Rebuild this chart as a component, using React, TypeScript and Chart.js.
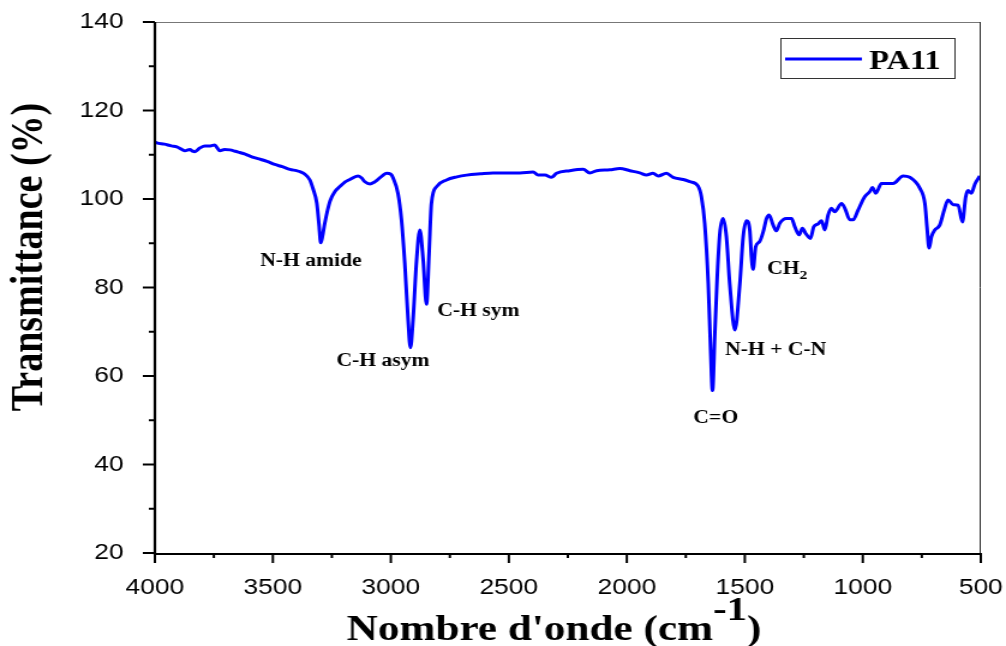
import React, { useEffect, useRef } from 'react';
import { Chart, registerables } from 'chart.js';

Chart.register(...registerables);

// ---- Data ----
const wavenumbers = [
  4000, 3992, 3960, 3930, 3907, 3885, 3873, 3852, 3840, 3831, 3810, 3788, 3765, 3746, 3735, 3725,
  3705, 3682, 3660, 3640, 3620, 3597, 3575, 3555, 3525, 3492, 3460, 3428, 3400, 3386, 3364, 3343,
  3331, 3314, 3305, 3297, 3290, 3280, 3268, 3258, 3237, 3216, 3195, 3174, 3140, 3125, 3110, 3089,
  3070, 3055, 3035, 3018, 3000, 2990, 2970, 2955, 2941, 2927, 2917, 2906, 2891, 2877, 2863, 2849,
  2838, 2828, 2806, 2764, 2720, 2679, 2620, 2567, 2500, 2453, 2397, 2376, 2347, 2319, 2298, 2242,
  2185, 2157, 2128, 2072, 2030, 1987, 1945, 1917, 1889, 1867, 1832, 1804, 1761, 1733, 1698, 1684,
  1670, 1655, 1645, 1637, 1627, 1617, 1606, 1592, 1578, 1564, 1542, 1521, 1507, 1493, 1479, 1472,
  1465, 1454, 1437, 1422, 1408, 1397, 1380, 1366, 1352, 1324, 1302, 1288, 1270, 1256, 1242, 1222,
  1208, 1189, 1175, 1161, 1147, 1133, 1119, 1090, 1076, 1055, 1041, 1020, 992, 970, 959, 945,
  921, 872, 829, 801, 758, 737, 728, 719, 709, 695, 674, 653, 639, 617, 596, 578,
  564, 554, 540, 525, 504,
];
const transmittance = [
  112.9, 112.7, 112.4, 112.0, 111.8, 111.2, 110.9, 111.2, 110.8, 110.7, 111.5, 112.0, 112.0, 112.2, 111.5, 110.9,
  111.2, 111.1, 110.8, 110.5, 110.2, 109.7, 109.3, 109.0, 108.5, 107.8, 107.3, 106.7, 106.4, 106.2, 105.6, 104.3,
  102.5, 99.1, 94.5, 90.1, 91.5, 94.5, 97.5, 99.5, 101.7, 102.8, 103.8, 104.4, 105.2, 104.8, 103.9, 103.4,
  103.8, 104.4, 105.3, 105.8, 105.6, 104.7, 101.3, 95.3, 85.5, 72.7, 66.4, 72.7, 86.2, 93.0, 86.2, 76.2,
  87.7, 99.0, 102.8, 104.3, 105.0, 105.4, 105.7, 105.9, 105.9, 105.9, 106.1, 105.4, 105.4, 104.9, 105.8, 106.4,
  106.7, 105.9, 106.4, 106.6, 106.9, 106.4, 105.9, 105.4, 105.8, 105.2, 105.8, 104.9, 104.4, 103.9, 102.9, 100.5,
  94.5, 80.9, 65.9, 56.7, 69.6, 82.4, 92.2, 95.6, 91.5, 80.9, 70.4, 80.9, 91.5, 95.1, 93.0, 87.0,
  84.1, 89.2, 90.4, 92.6, 95.6, 96.4, 94.1, 92.8, 94.5, 95.6, 95.6, 93.7, 91.9, 93.4, 92.2, 91.1,
  93.7, 94.4, 95.1, 93.0, 96.4, 97.9, 97.1, 99.0, 97.9, 95.3, 95.3, 97.5, 100.5, 101.7, 102.6, 101.3,
  103.5, 103.5, 105.2, 104.9, 102.4, 99.0, 93.7, 88.9, 91.5, 93.0, 94.1, 97.9, 99.8, 98.7, 98.6, 94.8,
  100.5, 101.9, 101.3, 103.4, 105.2,
];

const xTickValues = [4000, 3500, 3000, 2500, 2000, 1500, 1000, 500];
const yTickValues = [20, 40, 60, 80, 100, 120, 140];

const seriesName = 'PA11';
const xTitle = "Nombre d'onde (cm";
const xTitleSup = '-1';
const yTitle = 'Transmittance (%)';

// Band annotations: label, wavenumber, transmittance where the label sits
const peakLabels = ['N-H amide', 'C-H asym', 'C-H sym', 'C=O', 'N-H + C-N', 'CH'];
const peakLabelSubs = ['', '', '', '', '', '2'];
const peakLabelX = [3339, 3034, 2629, 1623, 1369, 1320];
const peakLabelY = [85.9, 63.2, 74.7, 50.5, 65.9, 84.0];

// ---- Layout ----
const STRETCH = 1.2;
const W = Math.round(1006 / STRETCH);
const H = 646;
const SERIF = '"Liberation Serif", "Times New Roman", serif';
const SANS = '"Liberation Sans", Arial, sans-serif';

const zeroPadding = (s: any) => {
  s.paddingLeft = 0;
  s.paddingRight = 0;
  s.paddingTop = 0;
  s.paddingBottom = 0;
};

const decorPlugin = {
  id: 'decor',
  afterDraw(chart: any) {
    const ctx = chart.ctx as CanvasRenderingContext2D;
    const { left, right, top, bottom } = chart.chartArea;
    const xs = chart.scales.x;
    const ys = chart.scales.y;
    ctx.save();

    // top / right frame
    ctx.lineWidth = 1;
    ctx.strokeStyle = '#777';
    ctx.beginPath();
    ctx.moveTo(left, top + 0.5);
    ctx.lineTo(right, top + 0.5);
    ctx.stroke();
    ctx.strokeStyle = '#222';
    ctx.beginPath();
    ctx.moveTo(right - 0.5, top);
    ctx.lineTo(right - 0.5, bottom);
    ctx.stroke();

    // axes
    ctx.strokeStyle = '#000';
    ctx.lineWidth = 2.2;
    ctx.beginPath();
    ctx.moveTo(left, top);
    ctx.lineTo(left, bottom + 1);
    ctx.lineTo(right, bottom + 1);
    ctx.stroke();

    // ticks
    ctx.lineWidth = 2;
    yTickValues.forEach((v) => {
      const y = ys.getPixelForValue(v);
      ctx.beginPath();
      ctx.moveTo(left - 10, y);
      ctx.lineTo(left, y);
      ctx.stroke();
    });
    for (let i = 0; i < yTickValues.length - 1; i++) {
      const v = (yTickValues[i] + yTickValues[i + 1]) / 2;
      const y = ys.getPixelForValue(v);
      ctx.beginPath();
      ctx.moveTo(left - 5, y);
      ctx.lineTo(left, y);
      ctx.stroke();
    }
    xTickValues.forEach((v) => {
      const x = xs.getPixelForValue(v);
      ctx.beginPath();
      ctx.moveTo(x, bottom);
      ctx.lineTo(x, bottom + 10);
      ctx.stroke();
    });
    for (let i = 0; i < xTickValues.length - 1; i++) {
      const v = (xTickValues[i] + xTickValues[i + 1]) / 2;
      const x = xs.getPixelForValue(v);
      ctx.beginPath();
      ctx.moveTo(x, bottom);
      ctx.lineTo(x, bottom + 5);
      ctx.stroke();
    }

    ctx.fillStyle = '#000';

    // y title
    ctx.save();
    ctx.translate(25, 257);
    ctx.rotate(-Math.PI / 2);
    ctx.font = `bold 38px ${SERIF}`;
    ctx.textAlign = 'center';
    ctx.textBaseline = 'middle';
    ctx.fillText(yTitle, 0, 0);
    ctx.restore();

    // x title with superscript
    ctx.font = `bold 36px ${SERIF}`;
    const w1 = ctx.measureText(xTitle).width;
    ctx.font = `bold 34px ${SERIF}`;
    const w2 = ctx.measureText(xTitleSup).width;
    ctx.font = `bold 36px ${SERIF}`;
    const w3 = ctx.measureText(')').width;
    let sx = 461.5 - (w1 + w2 + w3) / 2;
    ctx.textAlign = 'left';
    ctx.textBaseline = 'alphabetic';
    ctx.fillText(xTitle, sx, 640);
    sx += w1;
    ctx.font = `bold 34px ${SERIF}`;
    ctx.fillText(xTitleSup, sx, 620);
    sx += w2;
    ctx.font = `bold 36px ${SERIF}`;
    ctx.fillText(')', sx, 640);

    // legend
    ctx.lineWidth = 1;
    ctx.strokeStyle = '#333';
    ctx.strokeRect(650.5, 38.5, 145, 40);
    ctx.strokeStyle = '#0000FF';
    ctx.lineWidth = 3;
    ctx.beginPath();
    ctx.moveTo(654, 59);
    ctx.lineTo(718, 59);
    ctx.stroke();
    ctx.font = `bold 27px ${SERIF}`;
    ctx.fillText(seriesName, 724, 69);

    // band annotations
    peakLabels.forEach((lab, i) => {
      const cx = xs.getPixelForValue(peakLabelX[i]);
      const cy = ys.getPixelForValue(peakLabelY[i]);
      ctx.font = `bold 18px ${SERIF}`;
      const wMain = ctx.measureText(lab).width;
      let wSub = 0;
      if (peakLabelSubs[i]) {
        ctx.font = `bold 13px ${SERIF}`;
        wSub = ctx.measureText(peakLabelSubs[i]).width;
      }
      const x0 = cx - (wMain + wSub) / 2;
      ctx.textAlign = 'left';
      ctx.textBaseline = 'middle';
      ctx.font = `bold 18px ${SERIF}`;
      ctx.fillText(lab, x0, cy);
      if (peakLabelSubs[i]) {
        ctx.font = `bold 13px ${SERIF}`;
        ctx.fillText(peakLabelSubs[i], x0 + wMain, cy + 6);
      }
    });

    ctx.restore();
  },
};

export default function App() {
  const ref = useRef<HTMLCanvasElement | null>(null);

  useEffect(() => {
    document.body.style.margin = '0';
    document.body.style.overflow = 'hidden';
    const canvas = ref.current;
    if (!canvas) return;
    const chart = new Chart(canvas, {
      type: 'line',
      data: {
        datasets: [
          {
            label: seriesName,
            data: wavenumbers.map((w, i) => ({ x: w, y: transmittance[i] })),
            borderColor: '#0000FF',
            backgroundColor: '#0000FF',
            borderWidth: 3,
            pointRadius: 0,
            cubicInterpolationMode: 'monotone',
            fill: false,
          },
        ],
      },
      options: {
        animation: false,
        responsive: false,
        devicePixelRatio: 1,
        layout: { padding: { top: 22, right: W - 817, left: 0, bottom: 0 } },
        plugins: { legend: { display: false }, tooltip: { enabled: false } },
        scales: {
          x: {
            type: 'linear',
            reverse: true,
            min: 500,
            max: 4000,
            afterFit: (s: any) => {
              s.height = H - 553;
              zeroPadding(s);
            },
            afterBuildTicks: (s: any) => {
              s.ticks = xTickValues.map((v) => ({ value: v }));
            },
            ticks: {
              autoSkip: false,
              maxRotation: 0,
              padding: 14,
              color: '#000',
              font: { family: SANS, size: 22 },
              callback: (v: any) => String(v),
            },
            grid: { display: false },
            border: { display: false },
          },
          y: {
            min: 20,
            max: 140,
            afterFit: (s: any) => {
              s.width = 129;
              zeroPadding(s);
            },
            afterBuildTicks: (s: any) => {
              s.ticks = yTickValues.map((v) => ({ value: v }));
            },
            ticks: {
              padding: 18,
              color: '#000',
              font: { family: SANS, size: 22 },
              callback: (v: any) => String(v),
            },
            grid: { display: false },
            border: { display: false },
          },
        },
      },
      plugins: [decorPlugin],
    } as any);
    return () => chart.destroy();
  }, []);

  return (
    <div
      style={{
        width: W,
        height: H,
        transform: `scaleX(${1006 / W})`,
        transformOrigin: '0 0',
      }}
    >
      <canvas ref={ref} width={W} height={H} style={{ display: 'block' }} />
    </div>
  );
}
